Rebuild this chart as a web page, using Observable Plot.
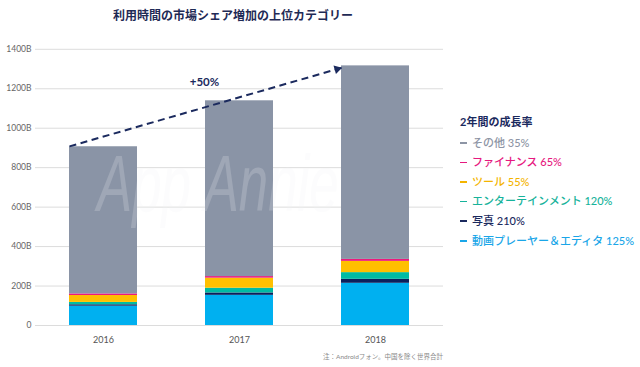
<!DOCTYPE html>
<html>
<head>
<meta charset="utf-8">
<script src="https://cdn.jsdelivr.net/npm/d3@7"></script>
<script src="https://cdn.jsdelivr.net/npm/@observablehq/plot@0.6"></script>
<style>
  body { margin: 0; background: #fff; }
  #wrap { position: relative; width: 640px; height: 367px; font-family: "Lato", "Noto Sans CJK JP", sans-serif; overflow: hidden; }
  #wrap svg { position: absolute; left: 0; top: 0; }
  .title { position: absolute; left: 0; width: 466px; top: 6px; text-align: center; font-size: 12px; font-weight: 700; color: #1f2a55; }
  .legend { position: absolute; left: 460px; top: 112px; font-size: 11px; line-height: 19.6px; }
  .legend .lt { font-weight: 700; color: #1b2a5e; margin-bottom: 1px; }
  .legend .it { white-space: nowrap; font-weight: 500; }
  .legend .sw { display: inline-block; width: 7px; height: 1.6px; vertical-align: middle; margin-right: 5px; position: relative; top: -1px; }
  .note { position: absolute; left: 323px; top: 351px; font-size: 6.5px; color: #888; }
  .wm { position: absolute; left: 97px; top: 138px; font-size: 80px; font-style: italic; font-weight: 400; color: #f2f3f6; opacity: 0.2; pointer-events: none; font-family: "Liberation Sans", sans-serif; transform: scaleX(0.66); transform-origin: left top; white-space: nowrap; }
</style>
</head>
<body>
<div id="wrap">
  <div class="title">利用時間の市場シェア増加の上位カテゴリー</div>
  <div class="legend" id="legend"></div>
  <div class="note">注：Androidフォン。中国を除く世界合計</div>
</div>
<script>
// Data (billions of minutes), stacked bottom to top
const years = ["2016", "2017", "2018"];
const videoPlayers = [98, 153, 214];   // 動画プレーヤー＆エディタ
const photo = [7, 12, 20];             // 写真
const entertainment = [12, 24, 34];    // エンターテインメント
const tools = [35, 51, 57];            // ツール
const finance = [8, 8, 10];            // ファイナンス
const other = [746, 891, 981];         // その他

const categories = ["動画プレーヤー＆エディタ", "写真", "エンターテインメント", "ツール", "ファイナンス", "その他"];
const categoryValues = [videoPlayers, photo, entertainment, tools, finance, other];
const colors = ["#00b0f0", "#0b1f5c", "#00bba3", "#ffc000", "#ec1a7d", "#8a94a6"];
const textColors = ["#1aa6e8", "#1b2a5e", "#17b39b", "#f4b400", "#e6197f", "#8d95a5"];
const growth = ["125%", "210%", "120%", "55%", "65%", "35%"];
const legendTitle = "2年間の成長率";
const yTicks = [0, 200, 400, 600, 800, 1000, 1200, 1400];

// Annotation: dashed growth arrow & label
const arrowFrom = {year: "2016", value: 908};
const arrowTo = {year: "2018", value: 1306};
const growthLabel = {year: "2017", value: 1232, text: "+50%"};

const rows = [];
categories.forEach((c, ci) => {
  years.forEach((y, yi) => rows.push({year: y, category: c, value: categoryValues[ci][yi]}));
});

const edge = -34; // offset to the bars' left edges

function build(extra) {
  return Plot.plot({
    width: 640,
    height: 367,
    marginLeft: 35,
    marginRight: 197,
    marginTop: 48.8,
    marginBottom: 42,
    style: {fontFamily: "Lato, 'Noto Sans CJK JP', sans-serif", background: "transparent"},
    x: {domain: years, paddingInner: 0.5, paddingOuter: 0.25, label: null},
    y: {domain: [0, 1400], label: null},
    color: {domain: categories, range: colors},
    marks: [
      Plot.gridY(yTicks, {stroke: "#dcdcdc", strokeOpacity: 1, strokeWidth: 1}),
      Plot.barY(rows, {x: "year", y: "value", fill: "category", order: categories}),
      Plot.axisX({tickSize: 0, tickPadding: 11, fontSize: 9, fill: "#555", label: null}),
      Plot.axisY({ticks: yTicks, tickSize: 0, tickPadding: 4, fontSize: 8.5, fill: "#666", label: null,
        tickFormat: d => d === 0 ? "0" : d + "B"}),
      Plot.text([growthLabel], {x: "year", y: "value", text: "text", dx: -35, fontSize: 11.5, fontWeight: 700, fill: "#1b2a5e"}),
      ...extra
    ]
  });
}

// compute arrow direction from the scales
const probe = build([]);
const sx = probe.scale("x"), sy = probe.scale("y");
const px1 = sx.apply(arrowFrom.year), py1 = sy.apply(arrowFrom.value);
const px2 = sx.apply(arrowTo.year), py2 = sy.apply(arrowTo.value);
const ang = Math.atan2(py2 - py1, px2 - px1);
const back = 4.5;

const chart = build([
  Plot.link([{x1: arrowFrom.year, y1: arrowFrom.value, x2: arrowTo.year, y2: arrowTo.value}], {
    x1: "x1", y1: "y1", x2: "x2", y2: "y2", dx: edge,
    stroke: "#1b2a5e", strokeWidth: 2, strokeDasharray: "7,4.5"
  }),
  Plot.dot([arrowTo], {
    x: "year", y: "value", symbol: "triangle", r: 3.3,
    dx: edge - back * Math.cos(ang), dy: -back * Math.sin(ang),
    rotate: ang * 180 / Math.PI + 90, fill: "#1b2a5e", stroke: "none"
  })
]);
const wrap = document.getElementById("wrap");
wrap.insertBefore(chart, wrap.firstChild);

// watermark
const wm = document.createElement("div");
wm.className = "wm";
wm.textContent = "App Annie";
wrap.appendChild(wm);

// legend (top-to-bottom: reverse of stack)
const lg = document.getElementById("legend");
const t = document.createElement("div");
t.className = "lt";
t.textContent = legendTitle;
lg.appendChild(t);
for (let i = categories.length - 1; i >= 0; i--) {
  const d = document.createElement("div");
  d.className = "it";
  d.style.color = textColors[i];
  const sw = document.createElement("span");
  sw.className = "sw";
  sw.style.background = textColors[i];
  d.appendChild(sw);
  d.appendChild(document.createTextNode(categories[i] + " " + growth[i]));
  lg.appendChild(d);
}
</script>
</body>
</html>
